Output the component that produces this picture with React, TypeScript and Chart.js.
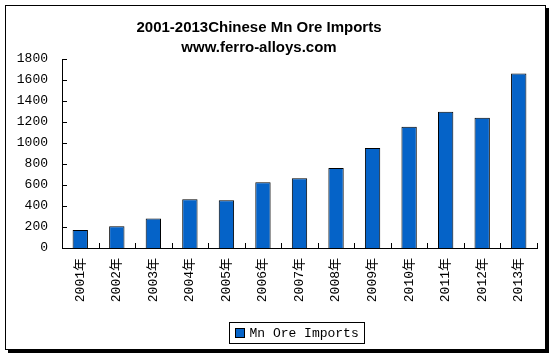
import React, { useEffect, useRef } from "react";
import { Chart, registerables } from "chart.js";

Chart.register(...registerables);

const years = ["2001年", "2002年", "2003年", "2004年", "2005年", "2006年", "2007年", "2008年", "2009年", "2010年", "2011年", "2012年", "2013年"];
const imports = [172, 208, 282, 464, 455, 627, 665, 761, 953, 1154, 1298, 1240, 1662];
const seriesName = "Mn Ore Imports";
const titleLines = ["2001-2013Chinese Mn Ore Imports", "www.ferro-alloys.com"];
const yMax = 1800;
const yStep = 200;

const barColor = "#0563C8";
const monoFont = "'Liberation Mono', 'Noto Sans CJK SC', monospace";

const decorPlugin = {
  id: "decor",
  afterDraw(chart: any) {
    const ctx = chart.ctx;
    const area = chart.chartArea;
    const ys = chart.scales.y;
    ctx.save();
    ctx.strokeStyle = "#000";
    ctx.lineWidth = 1;
    ys.ticks.forEach((t: any) => {
      const y = Math.round(ys.getPixelForValue(t.value)) + 0.5;
      ctx.beginPath();
      ctx.moveTo(area.left, y);
      ctx.lineTo(area.left + 5, y);
      ctx.stroke();
    });
    const n = years.length;
    for (let i = 0; i <= n; i++) {
      const x = Math.round(area.left + (i * (area.right - area.left)) / n) + 0.5;
      ctx.beginPath();
      ctx.moveTo(x, area.bottom);
      ctx.lineTo(x, area.bottom - 5);
      ctx.stroke();
    }
    ctx.fillStyle = "#000";
    ctx.font = "bold 15px 'Liberation Sans', Arial, sans-serif";
    ctx.textAlign = "center";
    ctx.textBaseline = "alphabetic";
    const tx = 259;
    ctx.fillText(titleLines[0], tx, 31.5);
    ctx.fillText(titleLines[1], tx, 51.5);
    ctx.font = "13px " + monoFont;
    const label = chart.data.datasets[0].label;
    const tw = ctx.measureText(label).width;
    const boxW = 6 + 9 + 5 + tw + 6;
    const boxH = 21;
    const cx = (area.left + area.right) / 2 - 3;
    const bx = Math.round(cx - boxW / 2) + 0.5;
    const by = 322.5;
    ctx.strokeRect(bx, by, Math.round(boxW), boxH);
    ctx.fillStyle = barColor;
    ctx.fillRect(bx + 6, by + 6, 9, 9);
    ctx.strokeRect(bx + 6, by + 6, 9, 9);
    ctx.fillStyle = "#000";
    ctx.textAlign = "left";
    ctx.textBaseline = "middle";
    ctx.fillText(label, bx + 20, by + boxH / 2 + 1);
    ctx.restore();
  },
};

export default function App() {
  const ref = useRef<HTMLCanvasElement | null>(null);
  useEffect(() => {
    if (!ref.current) return;
    const chart = new Chart(ref.current, {
      type: "bar",
      data: {
        labels: years,
        datasets: [
          {
            label: seriesName,
            data: imports,
            backgroundColor: barColor,
            borderColor: "#000",
            borderWidth: 1,
            categoryPercentage: 1,
            barPercentage: 0.42,
          },
        ],
      },
      options: {
        responsive: false,
        animation: false,
        layout: { padding: { left: 12, right: 18, top: 59, bottom: 41 } },
        plugins: {
          legend: { display: false },
          title: { display: false },
          tooltip: { enabled: false },
        },
        scales: {
          x: {
            grid: { display: false, drawTicks: false },
            border: { display: true, color: "#000", width: 1 },
            ticks: {
              minRotation: 90,
              maxRotation: 90,
              padding: 10,
              color: "#000",
              font: { family: monoFont, size: 13 },
            },
            afterFit: (s: any) => {
              s.height = 70;
            },
          },
          y: {
            min: 0,
            max: yMax,
            grid: { display: false, drawTicks: false },
            border: { display: true, color: "#000", width: 1 },
            ticks: {
              stepSize: yStep,
              padding: 14,
              color: "#000",
              font: { family: monoFont, size: 13 },
              callback: (v: any) => String(v),
            },
            afterFit: (s: any) => {
              s.width = 50;
            },
          },
        },
      },
      plugins: [decorPlugin],
    });
    return () => chart.destroy();
  }, []);
  return (
    <div style={{ position: "fixed", left: 0, top: 0, width: 555, height: 359, background: "#fff" }}>
      <div
        style={{
          position: "absolute",
          left: 5,
          top: 5,
          width: 539,
          height: 343,
          border: "1px solid #000",
          boxShadow: "3px 3px 0 0 #000",
        }}
      />
      <canvas ref={ref} width={555} height={359} style={{ position: "absolute", left: 0, top: 0 }} />
    </div>
  );
}
